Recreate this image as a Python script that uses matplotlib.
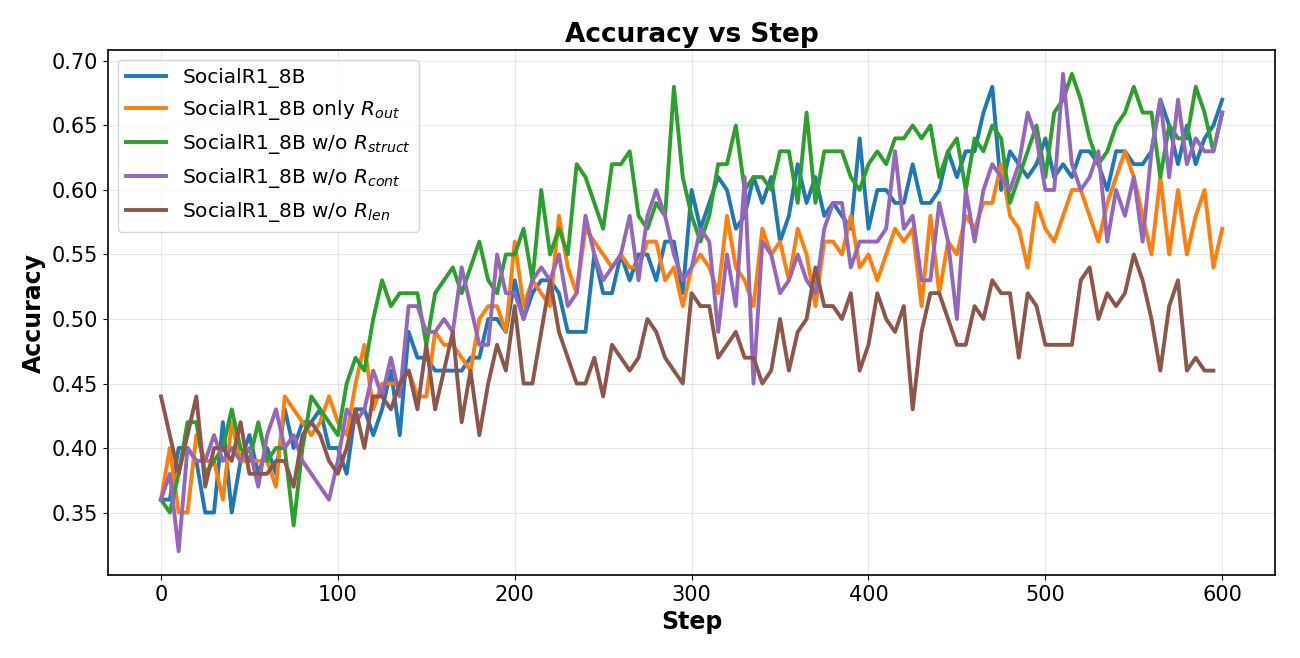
import numpy as np
import matplotlib
matplotlib.use("Agg")
import matplotlib.pyplot as plt

steps = np.arange(0, 605, 5)
steps_len = np.arange(0, 600, 5)

base = [0.36, 0.36, 0.40, 0.40, 0.39, 0.35, 0.35, 0.42, 0.35, 0.39, 0.41, 0.38, 0.40, 0.38, 0.43, 0.40, 0.42, 0.42, 0.43, 0.40,
        0.40, 0.38, 0.43, 0.43, 0.41, 0.43, 0.46, 0.41, 0.49, 0.47, 0.47, 0.46, 0.46, 0.46, 0.46, 0.47, 0.47, 0.50, 0.50, 0.49,
        0.53, 0.50, 0.52, 0.53, 0.53, 0.52, 0.49, 0.49, 0.49, 0.55, 0.52, 0.52, 0.55, 0.53, 0.55, 0.55, 0.53, 0.56, 0.56, 0.52,
        0.60, 0.57, 0.59, 0.61, 0.60, 0.57, 0.58, 0.61, 0.59, 0.61, 0.56, 0.58, 0.62, 0.59, 0.61, 0.58, 0.59, 0.58, 0.57, 0.64,
        0.57, 0.60, 0.60, 0.59, 0.59, 0.62, 0.59, 0.59, 0.60, 0.63, 0.61, 0.63, 0.63, 0.66, 0.68, 0.60, 0.63, 0.62, 0.61, 0.62,
        0.64, 0.61, 0.62, 0.61, 0.63, 0.63, 0.62, 0.60, 0.63, 0.63, 0.62, 0.62, 0.63, 0.67, 0.65, 0.62, 0.65, 0.62, 0.64, 0.65, 0.67]

only_out = [0.36, 0.40, 0.35, 0.35, 0.41, 0.39, 0.39, 0.36, 0.42, 0.39, 0.39, 0.39, 0.39, 0.37, 0.44, 0.43, 0.42, 0.41, 0.42, 0.44,
            0.42, 0.41, 0.45, 0.48, 0.43, 0.45, 0.45, 0.45, 0.46, 0.44, 0.44, 0.49, 0.48, 0.48, 0.47, 0.46, 0.50, 0.51, 0.51, 0.49,
            0.56, 0.51, 0.53, 0.52, 0.51, 0.58, 0.54, 0.52, 0.57, 0.56, 0.55, 0.54, 0.55, 0.54, 0.54, 0.56, 0.56, 0.53, 0.54, 0.51,
            0.54, 0.55, 0.54, 0.52, 0.58, 0.54, 0.53, 0.51, 0.57, 0.55, 0.56, 0.53, 0.57, 0.55, 0.51, 0.56, 0.56, 0.55, 0.58, 0.54,
            0.55, 0.53, 0.55, 0.57, 0.56, 0.57, 0.51, 0.58, 0.52, 0.56, 0.55, 0.58, 0.57, 0.59, 0.59, 0.62, 0.58, 0.57, 0.54, 0.59,
            0.57, 0.56, 0.58, 0.60, 0.60, 0.58, 0.56, 0.59, 0.61, 0.63, 0.61, 0.58, 0.55, 0.61, 0.55, 0.60, 0.55, 0.58, 0.60, 0.54, 0.57]

wo_struct = [0.36, 0.35, 0.38, 0.42, 0.42, 0.38, 0.39, 0.40, 0.43, 0.40, 0.39, 0.42, 0.39, 0.40, 0.40, 0.34, 0.40, 0.44, 0.43, 0.42,
             0.41, 0.45, 0.47, 0.46, 0.50, 0.53, 0.51, 0.52, 0.52, 0.52, 0.48, 0.52, 0.53, 0.54, 0.52, 0.54, 0.56, 0.53, 0.52, 0.55,
             0.55, 0.57, 0.53, 0.60, 0.55, 0.57, 0.55, 0.62, 0.61, 0.59, 0.57, 0.62, 0.62, 0.63, 0.58, 0.57, 0.59, 0.58, 0.68, 0.61,
             0.58, 0.56, 0.58, 0.62, 0.62, 0.65, 0.60, 0.61, 0.61, 0.60, 0.63, 0.63, 0.59, 0.66, 0.59, 0.63, 0.63, 0.63, 0.61, 0.60,
             0.62, 0.63, 0.62, 0.64, 0.64, 0.65, 0.64, 0.65, 0.61, 0.63, 0.64, 0.60, 0.64, 0.63, 0.65, 0.64, 0.59, 0.61, 0.63, 0.65,
             0.61, 0.66, 0.67, 0.69, 0.67, 0.64, 0.62, 0.63, 0.65, 0.66, 0.68, 0.66, 0.66, 0.61, 0.65, 0.64, 0.64, 0.68, 0.66, 0.63, 0.66]

wo_cont = [0.36, 0.38, 0.32, 0.40, 0.39, 0.39, 0.41, 0.39, 0.40, 0.39, 0.40, 0.37, 0.41, 0.43, 0.40, 0.41, 0.39, 0.38, 0.37, 0.36,
           0.39, 0.43, 0.42, 0.43, 0.46, 0.44, 0.47, 0.44, 0.51, 0.51, 0.49, 0.49, 0.50, 0.49, 0.54, 0.51, 0.48, 0.48, 0.55, 0.52,
           0.52, 0.50, 0.53, 0.54, 0.53, 0.55, 0.51, 0.52, 0.58, 0.55, 0.53, 0.54, 0.55, 0.58, 0.53, 0.58, 0.60, 0.58, 0.55, 0.53,
           0.54, 0.57, 0.56, 0.49, 0.55, 0.51, 0.61, 0.45, 0.56, 0.55, 0.52, 0.53, 0.55, 0.53, 0.52, 0.57, 0.59, 0.59, 0.54, 0.56,
           0.56, 0.56, 0.57, 0.63, 0.57, 0.58, 0.53, 0.53, 0.59, 0.56, 0.50, 0.60, 0.56, 0.60, 0.62, 0.61, 0.60, 0.62, 0.66, 0.64,
           0.60, 0.60, 0.69, 0.62, 0.60, 0.61, 0.63, 0.56, 0.60, 0.58, 0.61, 0.56, 0.63, 0.67, 0.61, 0.67, 0.62, 0.64, 0.63, 0.63, 0.66]

wo_len = [0.44, 0.41, 0.38, 0.41, 0.44, 0.37, 0.40, 0.40, 0.39, 0.42, 0.38, 0.38, 0.38, 0.39, 0.39, 0.37, 0.41, 0.42, 0.41, 0.39,
          0.38, 0.40, 0.43, 0.40, 0.44, 0.44, 0.43, 0.45, 0.46, 0.43, 0.48, 0.43, 0.46, 0.49, 0.42, 0.46, 0.41, 0.45, 0.48, 0.46,
          0.51, 0.45, 0.45, 0.49, 0.53, 0.49, 0.47, 0.45, 0.45, 0.47, 0.44, 0.48, 0.47, 0.46, 0.47, 0.50, 0.49, 0.47, 0.46, 0.45,
          0.52, 0.51, 0.51, 0.47, 0.48, 0.49, 0.47, 0.47, 0.45, 0.46, 0.50, 0.46, 0.49, 0.50, 0.54, 0.51, 0.51, 0.50, 0.52, 0.46,
          0.48, 0.52, 0.50, 0.49, 0.51, 0.43, 0.49, 0.52, 0.52, 0.50, 0.48, 0.48, 0.51, 0.50, 0.53, 0.52, 0.52, 0.47, 0.52, 0.51,
          0.48, 0.48, 0.48, 0.48, 0.53, 0.54, 0.50, 0.52, 0.51, 0.52, 0.55, 0.53, 0.50, 0.46, 0.51, 0.53, 0.46, 0.47, 0.46, 0.46]

labels = ["SocialR1_8B", "SocialR1_8B only $R_{out}$", "SocialR1_8B w/o $R_{struct}$",
          "SocialR1_8B w/o $R_{cont}$", "SocialR1_8B w/o $R_{len}$"]
colors = ["tab:blue", "tab:orange", "tab:green", "tab:purple", "tab:brown"]

fig, ax = plt.subplots(figsize=(13, 6.58), dpi=100)
series = [(steps, base), (steps, only_out), (steps, wo_struct), (steps, wo_cont), (steps_len, wo_len)]
for (x, y), lab, c in zip(series, labels, colors):
    ax.plot(x, y, color=c, linewidth=2.8, label=lab)

ax.set_title("Accuracy vs Step", fontsize=19, fontweight="bold")
ax.set_xlabel("Step", fontsize=17, fontweight="bold")
ax.set_ylabel("Accuracy", fontsize=17, fontweight="bold")
ax.tick_params(labelsize=15)
ax.grid(True, alpha=0.3)
ax.legend(loc="upper left", fontsize=14.5)
for sp in ax.spines.values():
    sp.set_linewidth(1.2)

plt.subplots_adjust(left=0.083, right=0.981, top=0.924, bottom=0.126)
plt.savefig("out.png")
